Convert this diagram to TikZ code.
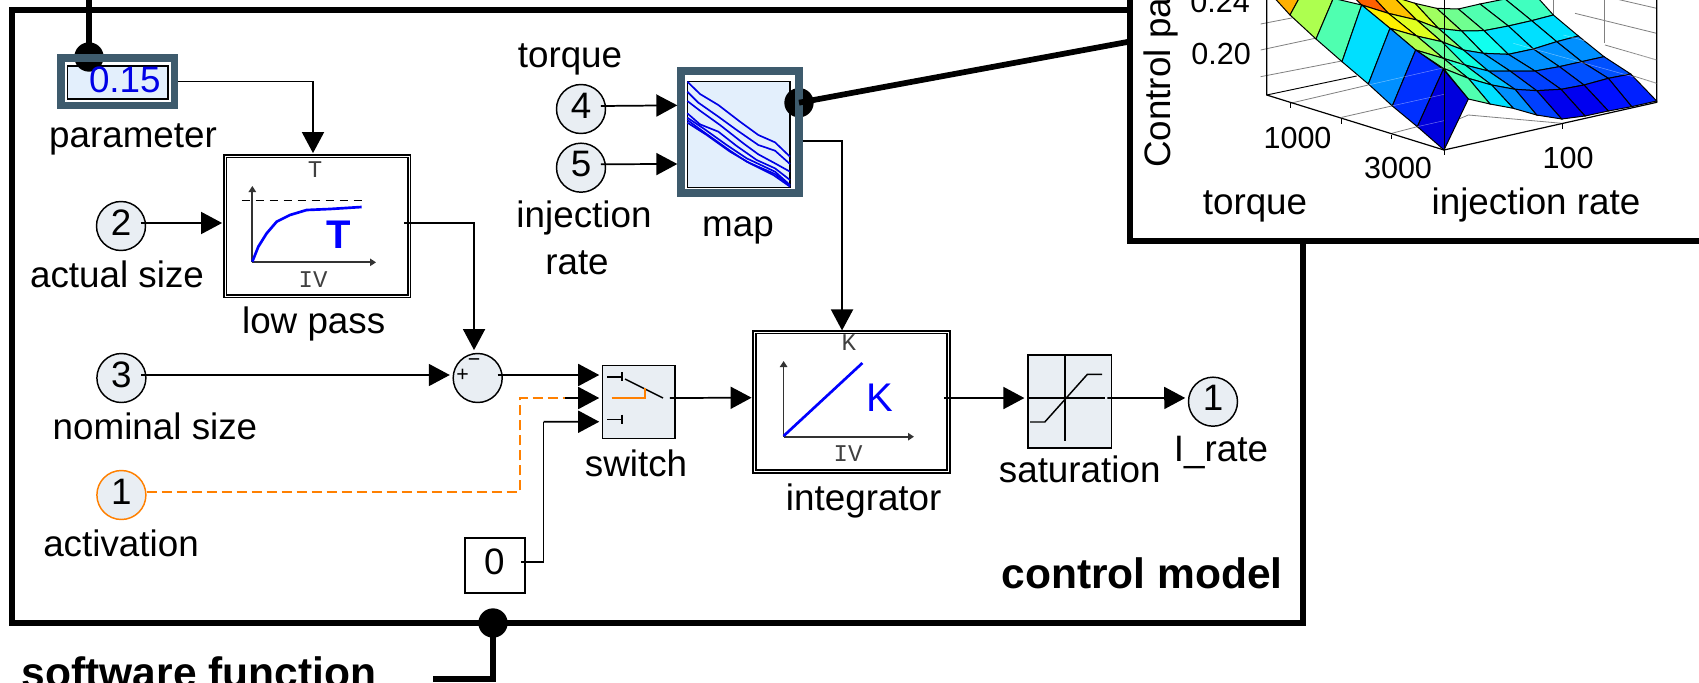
\documentclass[tikz,border=0pt]{standalone}
\usepackage{fontspec}
\setmainfont{Liberation Sans}
\setmonofont{Liberation Mono}
\usetikzlibrary{arrows.meta}
\newcommand{\fmain}{\fontsize{27.6}{30}\selectfont}
\newcommand{\fbold}{\fontsize{31.9}{34}\selectfont\bfseries}
\newcommand{\ftick}{\fontsize{22.9}{25}\selectfont}
\newcommand{\fglyph}{\fontsize{30}{32}\selectfont\bfseries}
\newcommand{\fglyphk}{\fontsize{30}{32}\selectfont}
\newcommand{\fmono}{\fontsize{18}{20}\selectfont\ttfamily}
\newcommand{\portnum}[1]{\raisebox{-6.9pt}[0pt][0pt]{#1}}
\definecolor{steel}{HTML}{3E5B6D}
\definecolor{portfill}{HTML}{E9EEF3}
\definecolor{mapfill}{HTML}{E3EFFC}
\definecolor{wireorange}{HTML}{FF8000}
\definecolor{curveblue}{HTML}{0000E6}
\tikzset{
  every node/.append style={font=\fmain,inner sep=0pt},
  lab/.style={anchor=base},
  port/.style={circle,draw=black,fill=portfill,line width=1.1pt,minimum size=36.75pt},
  conn/.style={line width=1.3pt,-{Triangle[length=15.75pt,width=16.5pt]}},
  wire/.style={line width=1.3pt},
  thick wire/.style={line width=4.3pt},
  dotnode/.style={circle,fill=black,minimum size=22pt},
  bigframe/.style={rectangle,draw=black,line width=4.5pt},
  dblock/.style={rectangle,draw=black,line width=1.35pt,double=white,double distance=0.6pt,fill=white},
  gblock/.style={rectangle,draw=black,fill=portfill,line width=1.1pt},
  steelframe/.style={rectangle,draw=steel,line width=5.6pt},
  innerbox/.style={rectangle,draw=black,fill=mapfill,line width=1.1pt},
  glyph/.style={anchor=base,font=\fglyph,text=blue},
  mono/.style={anchor=base,font=\fmono,text=black!75},
  axis/.style={line width=1.3pt,draw=black!80,-{Triangle[length=4.5pt,width=5.5pt]}},
  blueline/.style={line width=2pt,draw=blue},
  mapline/.style={line width=1.25pt,draw=curveblue},
  icon/.style={line width=1.1pt,draw=black},
  tick/.style={anchor=base,font=\ftick},
  grey/.style={line width=.6pt,draw=black!50},
  mesh/.style={line width=.75pt,draw=black},
  faint/.style={line width=.35pt,draw=white,opacity=.45},
  plotaxis/.style={line width=.9pt,draw=black},
}
\begin{document}
\begin{tikzpicture}[x=0.75pt,y=-0.75pt]
\useasboundingbox (0,0) rectangle (1699,682);
\clip (0,0) rectangle (1699,682);
\fill[white] (0,0) rectangle (1699,682);

% control model frame
\node[bigframe,minimum width=967.9pt,minimum height=459.75pt] (model) at (657.75,316.5) {};
\node[lab,font=\fbold] (modellabel) at (1142,588) {control model};
\node[lab,font=\fbold] (softfn) at (199,687) {software function};

% parameter block
\node[innerbox,minimum width=75.5pt,minimum height=25pt] (paraminner) at (117.75,82.5) {};
\coordinate (topin) at (89,-6);
\node[dotnode] (topdot) at (89,57) {};
\draw[thick wire] (topin) -- (topdot.center);
\node[steelframe,minimum width=85.1pt,minimum height=35.6pt,text=curveblue] (param) at (117.5,81.5)
  {\raisebox{-8.4pt}[0pt][0pt]{\hspace*{11pt}0.15}};
\node[lab] (lparam) at (133,147) {parameter};

% low pass
\node[dblock,minimum width=138pt,minimum height=105pt] (lowpass) at (317,226) {};
\begin{scope}[x=0.25pt,y=-0.25pt]
  \draw[axis] (757,787) -- (757,558);
  \draw[axis] (757,787) -- (1128,787);
  \draw[line width=1.1pt,dash pattern=on 6pt off 4.5pt] (725,601) -- (1088,601);
  \draw[blueline] (757,785) -- (775,740) -- (800,700) -- (830,665) -- (870,645) -- (920,630) -- (990,627) -- (1085,621);
\end{scope}
\node[glyph] (lpT) at (339,248) {T};
\node[mono] (lpt) at (315,177) {T};
\node[mono] (lpiv) at (313,287) {IV};
\node[lab] (llowpass) at (313.7,333) {low pass};

% ports
\node[port] (p2) at (121,226) {\portnum{2}};
\node[lab] (lp2) at (117,287) {actual size};
\node[port] (p3) at (121.4,378) {\portnum{3}};
\node[lab] (lp3) at (155,439) {nominal size};
\node[port,draw=wireorange] (pact) at (121.4,495) {\portnum{1}};
\node[lab] (lact) at (121,556) {activation};
\node[port] (p4) at (581,109) {\portnum{4}};
\node[lab] (lp4) at (570,67) {torque};
\node[port] (p5) at (581,167.7) {\portnum{5}};
\node[lab] (lp5a) at (584,227.7) {injection};
\node[lab] (lp5b) at (577,274) {rate};
\node[port] (pout) at (1213,401.7) {\portnum{1}};
\node[lab] (lout) at (1221,461.7) {I\_rate};

% sum
\node[port] (sum) at (477.7,378) {};
\node[font=\fontsize{16}{16}\selectfont] (sumplus) at (462.7,375) {+};
\node[font=\fontsize{16}{16}\selectfont] (summinus) at (474,362.7) {−};

% map
\node[innerbox,minimum width=77pt,minimum height=79.5pt] (mapinner) at (738.6,134.7) {};
\begin{scope}[shift={(480,20)},x=0.25pt,y=-0.25pt]
  \draw[mapline] (622,185) -- (660,222) -- (715,255) -- (780,305) -- (835,345) -- (885,367) -- (930,410);
  \draw[mapline] (622,215) -- (655,248) -- (715,290) -- (770,330) -- (835,375) -- (885,392) -- (930,432);
  \draw[mapline] (622,243) -- (660,272) -- (720,315) -- (790,370) -- (835,403) -- (885,430) -- (930,455);
  \draw[mapline] (622,280) -- (660,313) -- (715,335) -- (770,378) -- (830,420) -- (885,445) -- (930,480);
  \draw[mapline] (622,293) -- (670,325) -- (740,375) -- (800,415) -- (885,455) -- (930,495);
  \draw[mapline] (622,300) -- (670,335) -- (750,392) -- (800,425) -- (885,462) -- (930,497);
  \draw[mapline] (622,308) -- (680,345) -- (750,395) -- (810,430) -- (880,465) -- (930,500);
\end{scope}
\node[dotnode] (mapdot) at (799,102.7) {};
\node[steelframe,minimum width=88.4pt,minimum height=91.4pt] (map) at (740,132) {};
\node[lab] (lmap) at (738,236) {map};

% switch
\node[gblock,minimum width=54.4pt,minimum height=54.4pt] (switch) at (638.9,402) {};
\draw[icon] (607,377) -- (622,377) (622,372) -- (622,381);
\draw[icon] (607,419.3) -- (622,419.3) (622,414.5) -- (622,424);
\draw[icon] (625,379) -- (663,398);
\draw[line width=1.1pt,draw=wireorange] (611.7,398) -- (645,398) -- (645,388);
\node[lab] (lswitch) at (636,476.7) {switch};

% integrator
\node[dblock,minimum width=145.5pt,minimum height=104.5pt] (integ) at (851.5,401.7) {};
\draw[axis] (783.6,436.7) -- (783.6,361);
\draw[axis] (783.6,436.7) -- (914,436.7);
\draw[blueline] (783.6,436) -- (862.4,363);
\node[glyph,font=\fglyphk] (inK) at (880,411.7) {K};
\node[mono] (ink) at (848.7,350.7) {K};
\node[mono] (iniv) at (848,461.7) {IV};
\node[lab] (linteg) at (863.7,510) {integrator};

% saturation
\node[gblock,minimum width=62.7pt,minimum height=69.7pt] (sat) at (1069.6,401.5) {};
\draw[icon] (1028,398) -- (1104.8,398);
\draw[icon] (1064.8,355) -- (1064.8,440.7);
\draw[icon] (1030,422) -- (1044.8,422) -- (1087.4,374.3) -- (1102,374.3);
\node[lab] (lsat) at (1079.7,482) {saturation};

% constant
\node[rectangle,draw=black,line width=1.1pt,minimum width=45pt,minimum height=41pt] (zero) at (495,565.5) {\raisebox{-7.1pt}[0pt][0pt]{\hspace*{-1pt}0}};

% connectors
\draw[conn] (param.east) -| ([shift={(-3pt,1.5pt)}]lowpass.north);
\draw[conn] ([shift={(-4pt,2.25pt)}]p2.east) -- ([shift={(-1.5pt,2.25pt)}]lowpass.west);
\draw[conn] ([shift={(-4.5pt,2.25pt)}]lowpass.east) -| ([shift={(-2.75pt,2pt)}]sum.north);
\draw[conn] ([shift={(-4pt,2.25pt)}]p3.east) -- ([shift={(-2pt,2.25pt)}]sum.west);
\draw[conn] ([shift={(-4pt,2.25pt)}]sum.east) -- ([shift={(-2pt,20.25pt)}]switch.west);
\coordinate (bendA) at (520,398);
\coordinate (bendB) at (565,398);
\coordinate (bendC) at (543.5,421.7);
\draw[line width=1.2pt,draw=wireorange,dash pattern=on 7.5pt off 3.75pt] ([yshift=2.25pt]pact.east) -| (bendA) -- (bendB);
\draw[conn] (bendB) -- ([shift={(-2pt,3pt)}]switch.west);
\draw[wire] ([shift={(-3.5pt,2.6pt)}]zero.east) -| (bendC);
\draw[conn] (bendC) -- ([shift={(-2pt,-14.8pt)}]switch.west);
\draw[conn] ([shift={(-4pt,2.25pt)}]p4.east) -- ([shift={(0pt,20pt)}]map.west);
\draw[conn] ([shift={(-4pt,2.6pt)}]p5.east) -- ([shift={(0pt,-24pt)}]map.west);
\draw[conn] ([yshift=-6.5pt]map.east) -| ([shift={(-7.1pt,.5pt)}]integ.north);
\draw[conn] ([shift={(-4.5pt,3pt)}]switch.east) -- ([shift={(-1.5pt,3pt)}]integ.west);
\draw[conn] ([shift={(-4pt,2.8pt)}]integ.east) -- ([shift={(-2pt,2.6pt)}]sat.west);
\draw[conn] ([shift={(-3.6pt,2.6pt)}]sat.east) -- ([shift={(-1.9pt,2.8pt)}]pout.west);

% bottom connection
\node[dotnode] (botdot) at (493,623) {};
\coordinate (softin) at (433,679);
\draw[thick wire] (botdot.center) |- (softin);

% connection map -> plot
\coordinate (plotin) at (1130,41.5);
\draw[thick wire] (mapdot.center) -- (plotin);

% surface plot frame
\node[bigframe,fill=white,minimum width=472.5pt,minimum height=210.5pt] (plot) at (1445,100.2) {};
\node[anchor=base west,rotate=90] (zlabel) at (1170.7,168) {Control pa};
\node[tick,anchor=base east] (t24) at (1250,12.7) {0.24};
\node[tick,anchor=base east] (t20) at (1251,64) {0.20};
\node[tick] (t1000) at (1297.5,148.7) {1000};
\node[tick] (t3000) at (1398,178.5) {3000};
\node[tick] (t100) at (1568,168) {100};
\node[lab] (ltorque) at (1255,214.5) {torque};
\node[lab] (linj) at (1536,214.5) {injection rate};

\begin{scope}[shift={(1130,0)},x=0.25pt,y=-0.25pt]
  % back planes
  \draw[grey] (392,72) -- (490,53) (392,150) -- (555,115) (392,230) -- (635,183);
  \draw[grey] (480,310) -- (715,255) (635,352) -- (785,318) (785,400) -- (862,380);
  \draw[grey] (975,362) -- (1015,345) -- (1297,370);
  \draw[grey] (1580,25) -- (1450,-5) (1580,100) -- (1335,40) (1580,180) -- (1425,135) (1580,250) -- (1500,225);
  \draw[grey] (1270,-5) -- (1270,45) (1423,-5) -- (1423,130);
  \draw[plotaxis] (410,-5) -- (410,285) -- (942,450) -- (1580,307) -- (1580,-5);
  \draw[line width=.7pt] (410,285) -- (680,228);
  \draw[line width=.7pt] (480,310) -- (480,325) (635,358) -- (635,372) (785,405) -- (785,417) (1297,372) -- (1297,386) (942,450) -- (942,466);
\end{scope}

% main mesh
\begin{scope}[shift={(1400,0)},x=0.25pt,y=-0.25pt]
  \foreach \r/\row in {
    0/{770/303,695/320,625/333,555/348,485/357,410/345,340/325,270/312,205/297},
    1/{692/222,625/235,552/255,483/268,410/272,345/268,275/255,205/235,130/205},
    2/{612/170,545/185,478/200,405/213,330/213,265/213,195/195,130/175,47/150},
    3/{535/108,470/125,400/147,325/163,250/160,190/150,125/125,50/108,-30/85},
    4/{460/45,395/62,325/78,252/92,185/93,115/85,50/60,-35/40,-115/15},
    5/{415/-5,315/-3,240/12,175/27,110/25,45/10,-20/-10,-100/-30,-190/-60}}{
    \foreach \xx/\yy [count=\c from 0] in \row { \coordinate (g\r-\c) at (\xx,\yy); }
  }
  \foreach \r/\rn/\cols in {
    4/5/{40FFBF,40FFBF,50FFB0,70FF90,A0FF60,E0FF20,FFC000,FF6000},
    3/4/{00E0FF,00E0FF,00E0FF,10FFEF,30FFCF,90FF70,E0FF20,FFF000},
    2/3/{0090FF,0090FF,0090FF,0090FF,00B0FF,10FFE0,60FFA0,B0FF50},
    1/2/{0050FF,0050FF,0040FF,0040FF,0070FF,00C0FF,20FFD0,70FF90},
    0/1/{0020FF,0010FF,0000F0,0000EE,0040FF,0090FF,00E0FF,50FFB0}}{
    \foreach \hx [count=\c from 0] in \cols {
      \pgfmathtruncatemacro{\cn}{\c+1}
      \definecolor{facet}{HTML}{\hx}
      \filldraw[mesh,fill=facet] (g\r-\c) -- (g\r-\cn) -- (g\rn-\cn) -- (g\rn-\c) -- cycle;
    }
  }
\end{scope}

% left strip of the surface
\begin{scope}[shift={(1130,0)},x=0.25pt,y=-0.25pt]
  \filldraw[mesh,fill={rgb,255:red,255;green,176;blue,0}] (430,-10) -- (480,45) -- (510,-10) -- cycle;
  \filldraw[mesh,fill={rgb,255:red,173;green,255;blue,79}] (480,45) -- (558,117) -- (610,-5) -- (510,-10) -- cycle;
  \filldraw[mesh,fill={rgb,255:red,79;green,255;blue,176}] (558,117) -- (636,185) -- (695,15) -- (610,-5) -- cycle;
  \filldraw[mesh,fill={rgb,255:red,0;green,223;blue,255}] (636,185) -- (715,252) -- (780,85) -- (695,15) -- cycle;
  \filldraw[mesh,fill={rgb,255:red,0;green,144;blue,255}] (715,252) -- (787,318) -- (857,150) -- (780,85) -- cycle;
  \filldraw[mesh,fill={rgb,255:red,0;green,48;blue,255}] (787,318) -- (862,380) -- (940,208) -- (857,150) -- cycle;
  \filldraw[mesh,fill={rgb,255:red,0;green,0;blue,221}] (862,380) -- (942,450) -- (1015,297) -- (940,208) -- cycle;
  \draw[faint] (715,255) -- (1000,190) (785,318) -- (942,283) (862,380) -- (942,362);
  \draw[faint] (1580,250) -- (1150,130) (1580,180) -- (1300,105);
  \draw[line width=.7pt] (942,-5) -- (942,450);
\end{scope}
\end{tikzpicture}
\end{document}
